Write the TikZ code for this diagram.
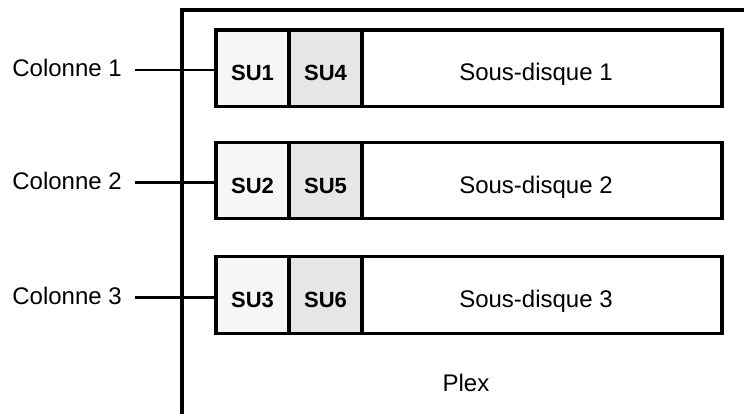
\documentclass[tikz,border=0pt]{standalone}
\usepackage{fontspec}
\setmainfont{Liberation Sans}
\definecolor{sulight}{HTML}{F6F6F6}
\definecolor{sudark}{HTML}{E6E6E6}
\begin{document}
\begin{tikzpicture}[x=1pt,y=1pt,
  cell/.style={draw, line width=3.2pt, minimum height=76.5pt, inner sep=0pt},
  sucell/.style={cell, minimum width=73pt},
  diskcell/.style={cell, minimum width=360pt, fill=white},
  txt/.style={inner sep=0pt, anchor=base, font=\fontsize{24}{28}\selectfont},
  sutxt/.style={txt, font=\fontsize{22}{25}\selectfont\bfseries},
  lab/.style={txt, anchor=base east},
  conn/.style={line width=2.4pt}]
\useasboundingbox (0,0) rectangle (744,414);
% Plex frame
\draw[line width=3.2pt] (182,0) -- (182,404) -- (744,404);
\node[txt] (plex) at (466,22.3) {Plex};
% Row 1
\node[sucell, fill=sulight] (su1) at (252.5,345.75) {};
\node[sucell, fill=sudark] (su4) at (325.5,345.75) {};
\node[diskcell] (d1) at (542,345.75) {};
\node[sutxt] (s1) at (252.5,333.5) {SU1};
\node[sutxt] (s4) at (325.5,333.5) {SU4};
\node[txt] (t1) at (536,333.5) {Sous-disque 1};
\node[lab] (c1) at (122,337.3) {Colonne 1};
\coordinate (k1) at (135,344);
\draw[conn] (k1) -- (k1 -| su1.west);
% Row 2
\node[sucell, fill=sulight] (su2) at (252.5,233.5) {};
\node[sucell, fill=sudark] (su5) at (325.5,233.5) {};
\node[diskcell] (d2) at (542,233.5) {};
\node[sutxt] (s2) at (252.5,220.5) {SU2};
\node[sutxt] (s5) at (325.5,220.5) {SU5};
\node[txt] (t2) at (536,220.5) {Sous-disque 2};
\node[lab] (c2) at (122,224.6) {Colonne 2};
\coordinate (k2) at (135,231.3);
\draw[conn] (k2) -- (k2 -| su2.west);
% Row 3
\node[sucell, fill=sulight] (su3) at (252.5,119) {};
\node[sucell, fill=sudark] (su6) at (325.5,119) {};
\node[diskcell] (d3) at (542,119) {};
\node[sutxt] (s3) at (252.5,106) {SU3};
\node[sutxt] (s6) at (325.5,106) {SU6};
\node[txt] (t3) at (536,106) {Sous-disque 3};
\node[lab] (c3) at (122,109.6) {Colonne 3};
\coordinate (k3) at (135,116.3);
\draw[conn] (k3) -- (k3 -| su3.west);
\end{tikzpicture}
\end{document}
